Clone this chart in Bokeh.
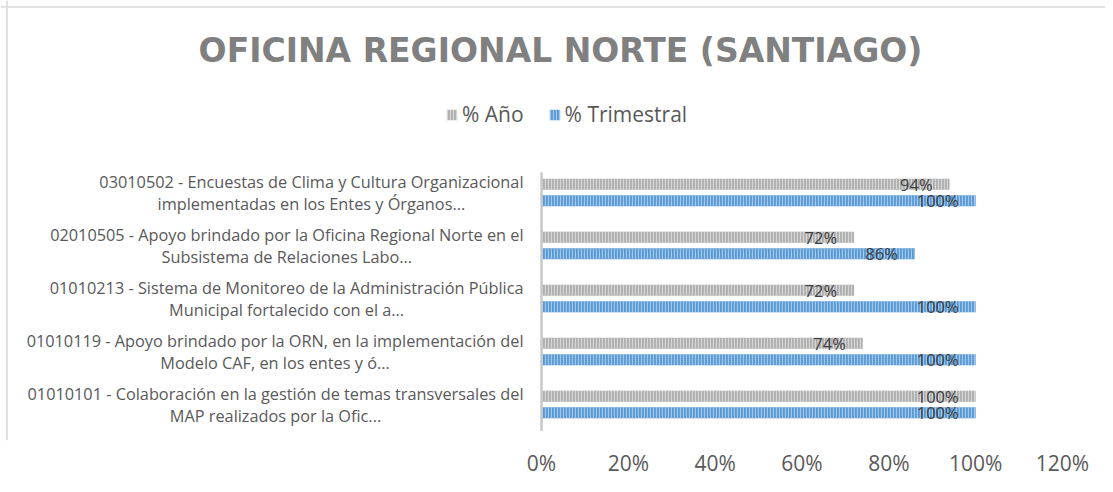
from bokeh.plotting import figure
from bokeh.models import ColumnDataSource, Range1d, FixedTicker, NumeralTickFormatter, Label, Legend, LegendItem, Span
from bokeh.core.properties import value
from bokeh.embed import file_html
from bokeh.resources import INLINE

# ---- data (top to bottom as shown) ----
categories = [
    "03010502 - Encuestas de Clima y Cultura Organizacional\nimplementadas en los Entes y Órganos...",
    "02010505 - Apoyo brindado por la Oficina Regional Norte en el\nSubsistema de Relaciones Labo...",
    "01010213 - Sistema de Monitoreo de la Administración Pública\nMunicipal fortalecido con el a...",
    "01010119 - Apoyo brindado por la ORN, en la implementación del\nModelo CAF, en los entes y ó...",
    "01010101 - Colaboración en la gestión de temas transversales del\nMAP realizados por la Ofic...",
]
anio = [0.94, 0.72, 0.72, 0.74, 1.00]
trimestral = [1.00, 0.86, 1.00, 1.00, 1.00]
xticks = [0, 0.2, 0.4, 0.6, 0.8, 1.0, 1.2]
title_text = "OFICINA REGIONAL NORTE (SANTIAGO)"
series_names = ["% Año", "% Trimestral"]

# ---- layout constants (pixels of the picture) ----
FIG_W, FIG_H = 1105, 484
BOTTOM_BORDER = 44
ZERO_PX, UNIT_PX = 541.0, 521.0 / 1.2
ROW_PX, ROW0_PX = 53.0, 404.0
FRAME_TOP = 0
FRAME_BOTTOM = FIG_H - BOTTOM_BORDER

def xd(px):
    return (px - ZERO_PX) / UNIT_PX

def yd(py):
    return (ROW0_PX - py) / ROW_PX

n = len(categories)
rows = [n - 1 - i for i in range(n)]
OFF = 8.25 / ROW_PX
BAR_H = 11.0 / ROW_PX

src = ColumnDataSource(dict(
    cat=categories,
    row=rows,
    y_anio=[r + OFF for r in rows],
    y_tri=[r - OFF for r in rows],
    anio=anio,
    tri=trimestral,
    anio_lbl=[f"{round(v*100)}%" for v in anio],
    tri_lbl=[f"{round(v*100)}%" for v in trimestral],
))

p = figure(width=FIG_W, height=FIG_H,
           x_range=Range1d(xd(0), xd(FIG_W)),
           y_range=Range1d(yd(FRAME_BOTTOM), yd(FRAME_TOP)),
           y_axis_location=None, toolbar_location=None, output_backend="svg",
           min_border_left=0, min_border_right=0, min_border_top=0,
           min_border_bottom=BOTTOM_BORDER)
p.outline_line_color = None
p.xgrid.visible = False
p.ygrid.visible = False
p.background_fill_color = "white"
p.border_fill_color = "white"

FONT = value("Open Sans")

r_anio = p.hbar(y="y_anio", right="anio", left=0, height=BAR_H, source=src,
                fill_color="#b0b0b0", line_color=None,
                hatch_pattern="|", hatch_color="#d6d6d6", hatch_scale=3, hatch_weight=1.2)
r_tri = p.hbar(y="y_tri", right="tri", left=0, height=BAR_H, source=src,
               fill_color="#5b9bd5", line_color=None,
               hatch_pattern="|", hatch_color="#a2c7ea", hatch_scale=3, hatch_weight=1.2)

# category axis line
p.segment(x0=0, x1=0, y0=-0.5, y1=n - 0.62, line_color="#c8c8c8", line_width=2.5)

# data labels
p.text(x="anio", y="y_anio", text="anio_lbl", source=src, x_offset=-17,
       text_align="right", text_baseline="middle", text_font=FONT,
       text_font_size="16.5px", text_color="#404040")
p.text(x="tri", y="y_tri", text="tri_lbl", source=src, x_offset=-17,
       text_align="right", text_baseline="middle", text_font=FONT,
       text_font_size="16.5px", text_color="#404040")

# category labels
p.text(x=0, y="row", text="cat", source=src, x_offset=-18,
       anchor="center_right", text_align="center", text_baseline="middle",
       text_font=FONT, text_font_size="16.3px", text_color="#595959",
       text_line_height=1.0)

# x axis
ax = p.xaxis[0]
ax.ticker = FixedTicker(ticks=xticks)
ax.formatter = NumeralTickFormatter(format="0%")
ax.axis_line_color = None
ax.major_tick_line_color = None
ax.minor_tick_line_color = None
ax.major_label_text_font = "Open Sans"
ax.major_label_text_font_size = "21px"
ax.major_label_text_color = "#595959"
ax.major_label_standoff = 2

# title
p.add_layout(Label(x=xd(560), y=yd(50), text=title_text, text_align="center",
                   text_baseline="middle", text_font="DejaVu Sans", text_font_style="bold",
                   text_font_size="33px", text_color="#808080"))

# legend
legend = Legend(items=[LegendItem(label=series_names[0], renderers=[r_anio]),
                       LegendItem(label=series_names[1], renderers=[r_tri])],
                orientation="horizontal", location=(445, FRAME_BOTTOM - 114 - 14),
                padding=0, margin=0, border_line_color=None, background_fill_alpha=0,
                glyph_width=13, glyph_height=13, label_height=26, label_standoff=4, spacing=24,
                label_text_font="Open Sans", label_text_font_size="21px", label_text_color="#595959")
p.add_layout(legend, "center")

# chart border
p.add_layout(Span(location=xd(6.5), dimension="height", line_color="#d9d9d9", line_width=1.5))
p.add_layout(Span(location=yd(6.5), dimension="width", line_color="#d9d9d9", line_width=1.5))

open("out.html", "w").write(file_html(p, INLINE))
